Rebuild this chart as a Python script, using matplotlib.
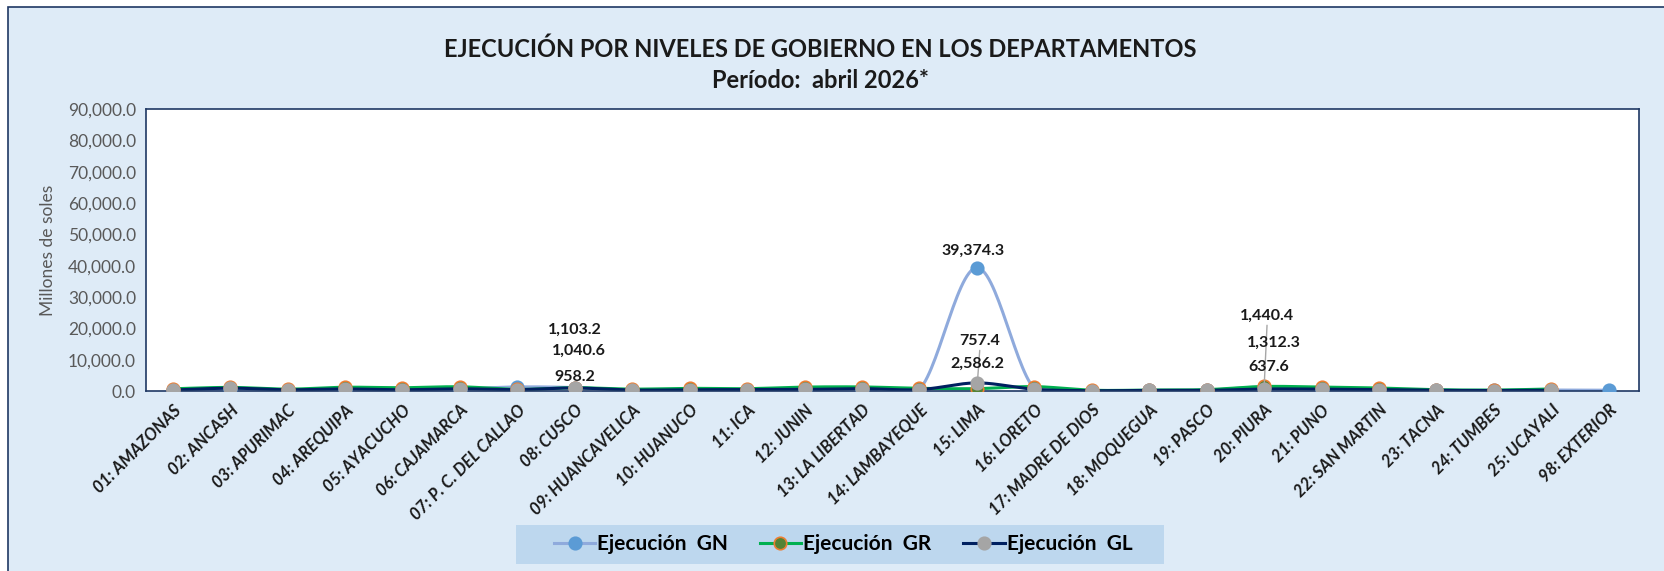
import numpy as np
import matplotlib
matplotlib.use("Agg")
import matplotlib.pyplot as plt
from matplotlib.patches import Rectangle
from matplotlib.lines import Line2D

plt.rcParams['font.family'] = ['Lato', 'DejaVu Sans']

departamentos = [
    "01: AMAZONAS", "02: ANCASH", "03: APURIMAC", "04: AREQUIPA", "05: AYACUCHO",
    "06: CAJAMARCA", "07: P. C. DEL CALLAO", "08: CUSCO", "09: HUANCAVELICA",
    "10: HUANUCO", "11: ICA", "12: JUNIN", "13: LA LIBERTAD", "14: LAMBAYEQUE",
    "15: LIMA", "16: LORETO", "17: MADRE DE DIOS", "18: MOQUEGUA", "19: PASCO",
    "20: PIURA", "21: PUNO", "22: SAN MARTIN", "23: TACNA", "24: TUMBES",
    "25: UCAYALI", "98: EXTERIOR",
]
# millones de soles
ejec_gn = [350, 650, 400, 700, 550, 700, 1300, 1103.2, 300, 450, 450, 650, 750, 500,
           39374.3, 700, 150, 200, 250, 1312.3, 600, 500, 300, 200, 300, 250]
ejec_gr = [700, 1150, 600, 1200, 1050, 1350, 500, 1040.6, 600, 850, 750, 1250, 1300, 850,
           757.4, 1400, 250, 300, 450, 1440.4, 1250, 950, 400, 300, 650, np.nan]
ejec_gl = [300, 900, 400, 650, 400, 700, 450, 958.2, 300, 400, 450, 500, 750, 450,
           2586.2, 550, 100, 200, 200, 637.6, 600, 450, 200, 150, 250, np.nan]

W, H = 1664, 571


def smooth(y, n=30):
    # curva suavizada tipo Excel (bezier catmull-rom)
    y = np.asarray(y, dtype=float)
    x = np.arange(len(y), dtype=float)
    ok = ~np.isnan(y)
    x, y = x[ok], y[ok]
    xs, ys = [], []
    t = np.linspace(0, 1, n)
    for i in range(len(x) - 1):
        i0 = max(i - 1, 0)
        i3 = min(i + 2, len(x) - 1)
        c1x = x[i] + (x[i + 1] - x[i0]) / 6
        c1y = y[i] + (y[i + 1] - y[i0]) / 6
        c2x = x[i + 1] - (x[i3] - x[i]) / 6
        c2y = y[i + 1] - (y[i3] - y[i]) / 6
        bx = (1 - t)**3 * x[i] + 3 * (1 - t)**2 * t * c1x + 3 * (1 - t) * t**2 * c2x + t**3 * x[i + 1]
        by = (1 - t)**3 * y[i] + 3 * (1 - t)**2 * t * c1y + 3 * (1 - t) * t**2 * c2y + t**3 * y[i + 1]
        xs.extend(bx)
        ys.extend(by)
    return np.array(xs), np.array(ys), x, y


fig = plt.figure(figsize=(W / 100, H / 100), dpi=100, facecolor="white")
fig.add_artist(Rectangle((8 / W, -0.1), 1.2, 1 - 7 / H + 0.1, transform=fig.transFigure,
                         facecolor="#DEEBF7", edgecolor="#1F3864", lw=1.2, zorder=0))
# fondo de la leyenda
fig.add_artist(Rectangle((516 / W, 1 - 564 / H), 648 / W, 39 / H, transform=fig.transFigure,
                         facecolor="#BDD7EE", edgecolor="none", zorder=1))

ax = fig.add_axes([145.7 / W, 1 - 391 / H, (1638.7 - 145.7) / W, (391 - 109.3) / H])
ax.set_facecolor("white")
for s in ax.spines.values():
    s.set_color("#1F3864")
    s.set_linewidth(1.2)

series = [
    (ejec_gn, "Ejecución  GN", "#8FAADC", "#5B9BD5", "#5B9BD5"),
    (ejec_gr, "Ejecución  GR", "#00B050", "#548235", "#ED7D31"),
    (ejec_gl, "Ejecución  GL", "#002060", "#A5A5A5", "#A5A5A5"),
]
handles = []
for vals, name, lc, mfc, mec in series:
    sx, sy, px, py = smooth(vals)
    ax.plot(sx, sy, color=lc, lw=2.2, solid_capstyle="round", zorder=2)
    ax.plot(px, py, ls="none", marker="o", ms=9, mfc=mfc, mec=mec, mew=1.2, zorder=3)
    handles.append(Line2D([0], [0], color=lc, lw=2.2, marker="o", ms=9,
                          mfc=mfc, mec=mec, mew=1.2, label=name))

ax.set_xlim(-0.47, len(departamentos) - 0.48)
ax.set_ylim(0, 90000)
ax.set_yticks(np.arange(0, 90001, 10000))
ax.set_yticklabels([f"{v:,.1f}" for v in np.arange(0, 90001, 10000)])
ax.set_xticks(range(len(departamentos)))
ax.set_xticklabels(departamentos, rotation=45, ha="right", rotation_mode="anchor",
                   fontsize=12, fontweight="bold", fontstyle="italic", color="#1a1a1a")
ax.tick_params(axis="x", length=0, pad=8)
ax.tick_params(axis="y", length=0, pad=7, labelsize=12.5, labelcolor="#595959")
fig.text(48 / W, 1 - 250 / H, "Millones de soles", rotation=90, ha="center", va="center",
         fontsize=12.5, color="#595959")

# etiquetas de datos
lbl = dict(textcoords="offset pixels", ha="center", va="center", fontsize=11.5,
           fontweight="bold", color="#1a1a1a", zorder=5)
lead = dict(arrowstyle="-", color="#A6A6A6", lw=1, shrinkA=0, shrinkB=0, relpos=(0.5, 0))
cusco, lima, piura = 7, 14, 19
ax.annotate(f"{ejec_gn[cusco]:,.1f}", (cusco, ejec_gn[cusco]), xytext=(0, 58), **lbl)
ax.annotate(f"{ejec_gr[cusco]:,.1f}", (cusco, ejec_gr[cusco]), xytext=(4, 37), **lbl)
ax.annotate(f"{ejec_gl[cusco]:,.1f}", (cusco, ejec_gl[cusco]), xytext=(0, 11), **lbl)
ax.annotate(f"{ejec_gn[lima]:,.1f}", (lima, ejec_gn[lima]), xytext=(-4, 17), **lbl)
ax.annotate(f"{ejec_gr[lima]:,.1f}", (lima, ejec_gr[lima]), xytext=(3, 48), arrowprops=lead, **lbl)
ax.annotate(f"{ejec_gl[lima]:,.1f}", (lima, ejec_gl[lima]), xytext=(0, 19), **lbl)
ax.annotate(f"{ejec_gr[piura]:,.1f}", (piura, ejec_gr[piura]), xytext=(3, 71), arrowprops=lead, **lbl)
ax.annotate(f"{ejec_gn[piura]:,.1f}", (piura, ejec_gn[piura]), xytext=(10, 44), **lbl)
ax.annotate(f"{ejec_gl[piura]:,.1f}", (piura, ejec_gl[piura]), xytext=(5, 22), **lbl)

fig.text(820 / W, 1 - 49 / H, "EJECUCIÓN POR NIVELES DE GOBIERNO EN LOS DEPARTAMENTOS",
         ha="center", va="center", fontsize=17, fontweight="bold", color="#1a1a1a")
fig.text(820 / W, 1 - 80 / H, "Período:  abril 2026*",
         ha="center", va="center", fontsize=17, fontweight="bold", color="#1a1a1a")

leg = fig.legend(handles=handles, loc="center", ncol=3,
                 bbox_to_anchor=(843 / W, 1 - 544 / H),
                 frameon=False, handlelength=2.0, handletextpad=0.1,
                 columnspacing=1.5, borderpad=0, borderaxespad=0,
                 prop={"size": 15, "weight": "bold"})
leg.set_zorder(2)

fig.savefig("out.png", dpi=100, facecolor="white")
